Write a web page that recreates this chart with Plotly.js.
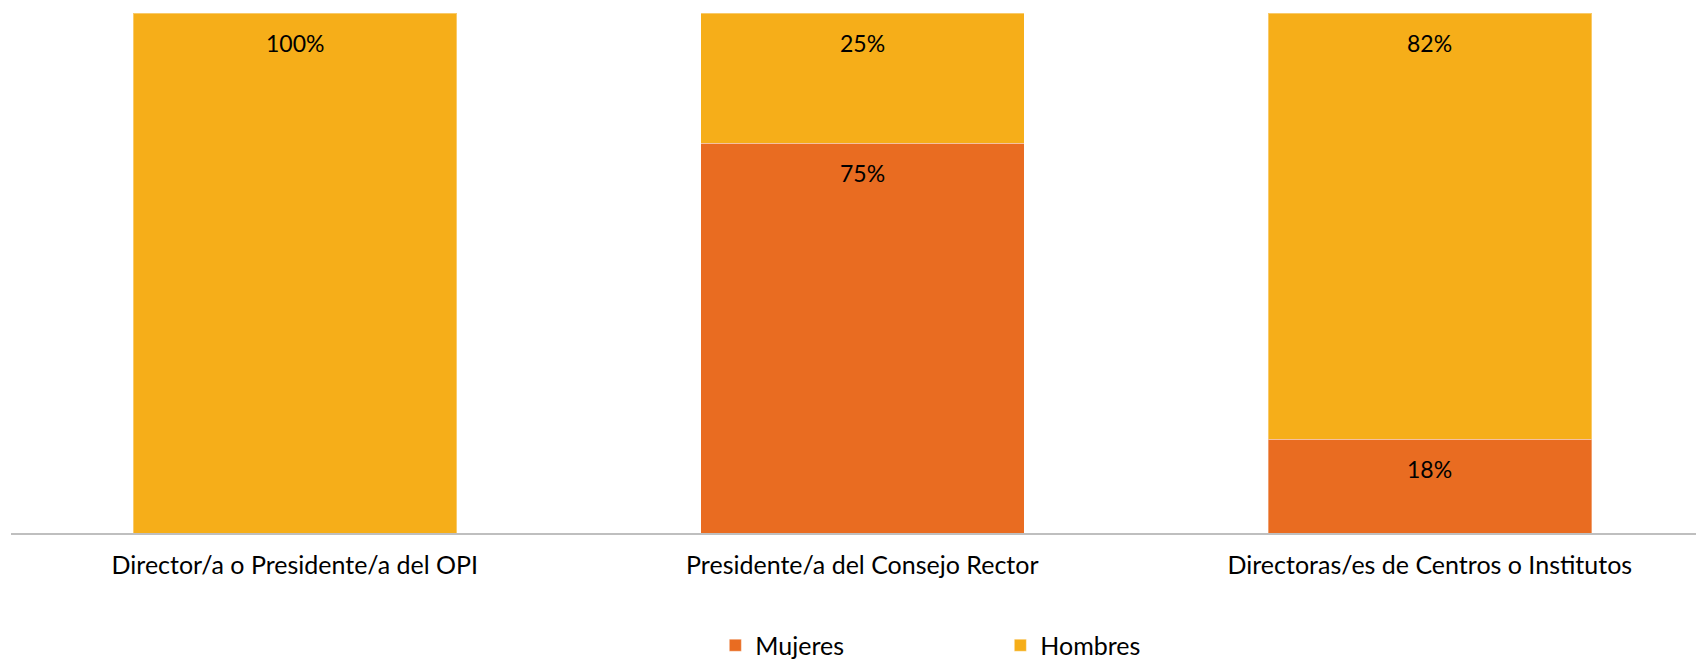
<!DOCTYPE html>
<html>
<head>
<meta charset="utf-8">
<script src="https://cdn.plot.ly/plotly-3.0.1.min.js"></script>
<style>
html,body{margin:0;padding:0;background:#fff;}
#chart{width:1696px;height:660px;}
</style>
</head>
<body>
<div id="chart"></div>
<script>
const categories = ["Director/a o Presidente/a del OPI", "Presidente/a del Consejo Rector", "Directoras/es de Centros o Institutos"];
const mujeres = [0, 75, 18];
const hombres = [100, 25, 82];
const seriesNames = ["Mujeres", "Hombres"];
const colors = ["#E96C21", "#F6AE19"];

const FONT = "Lato, 'Open Sans', sans-serif";
const lineCol = "rgba(255,255,255,0.35)";

const traces = [
  {type: "bar", name: seriesNames[0], x: categories, y: mujeres,
   marker: {color: colors[0], line: {color: lineCol, width: 1}}, hoverinfo: "none"},
  {type: "bar", name: seriesNames[1], x: categories, y: hombres,
   marker: {color: colors[1], line: {color: lineCol, width: 1}}, hoverinfo: "none"}
];

const annotations = [];
categories.forEach((c, i) => {
  if (mujeres[i] > 0) annotations.push({x: c, y: mujeres[i], xref: "x", yref: "y", text: mujeres[i] + "%",
    showarrow: false, yanchor: "top", yshift: -14, font: {family: FONT, size: 23, color: "#000"}});
  if (hombres[i] > 0) annotations.push({x: c, y: mujeres[i] + hombres[i], xref: "x", yref: "y", text: hombres[i] + "%",
    showarrow: false, yanchor: "top", yshift: -14, font: {family: FONT, size: 23, color: "#000"}});
});

const layout = {
  width: 1696, height: 660,
  margin: {l: 11, r: 0, t: 13, b: 127, autoexpand: false},
  paper_bgcolor: "#fff", plot_bgcolor: "#fff",
  barmode: "stack", bargap: 0.43,
  showlegend: true,
  legend: {orientation: "h", x: 0.418, xanchor: "left", yref: "container", y: 0.022, yanchor: "middle",
           entrywidth: 240, entrywidthmode: "pixels", font: {family: FONT, size: 25, color: "#000"},
           traceorder: "normal"},
  xaxis: {type: "category", range: [-0.5, 2.469], showline: true, linecolor: "#BFBFBF", linewidth: 1.5,
          ticks: "", showgrid: false, zeroline: false, tickfont: {family: FONT, size: 25, color: "#000"},
          ticklabelstandoff: 9, fixedrange: true, automargin: false},
  yaxis: {range: [0, 100], visible: false, showgrid: false, zeroline: false, fixedrange: true, automargin: false},
  annotations: annotations,
  font: {family: FONT}
};

Plotly.newPlot("chart", traces, layout, {displayModeBar: false, staticPlot: true});
</script>
</body>
</html>
